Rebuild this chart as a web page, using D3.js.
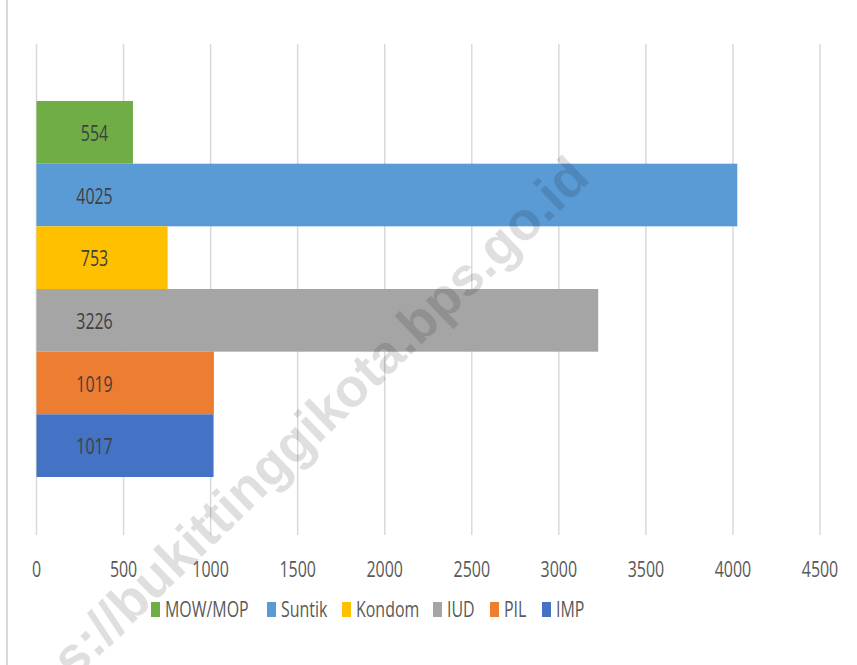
<!DOCTYPE html>
<html>
<head>
<meta charset="utf-8">
<script src="https://cdn.jsdelivr.net/npm/d3@7"></script>
<style>
  body { margin: 0; background: #fff; }
  svg { display: block; font-family: "Open Sans", sans-serif; }
</style>
</head>
<body>
<svg id="chart"></svg>
<script>
// series (top to bottom as drawn)
const series = ["MOW/MOP", "Suntik", "Kondom", "IUD", "PIL", "IMP"];
const values = [554, 4025, 753, 3226, 1019, 1017];
const colors = ["#70AD47", "#5B9BD5", "#FFC000", "#A5A5A5", "#ED7D31", "#4472C4"];
const ticks = [0, 500, 1000, 1500, 2000, 2500, 3000, 3500, 4000, 4500];

const W = 857, H = 665;
const squeeze = 0.76; // reference text is horizontally condensed
const svg = d3.select("#chart").attr("width", W).attr("height", H);

// left border of the chart frame
svg.append("line")
    .attr("x1", 7).attr("x2", 7)
    .attr("y1", 0).attr("y2", H)
    .attr("stroke", "#d9d9d9").attr("stroke-width", 2);

const plot = {left: 36.5, right: 820, top: 44, bottom: 535};

const x = d3.scaleLinear().domain([0, 4500]).range([plot.left, plot.right]);
const y = d3.scaleBand().domain(series).range([101, 477]);

// gridlines
svg.append("g").selectAll("line")
    .data(ticks)
    .enter().append("line")
    .attr("x1", d => x(d)).attr("x2", d => x(d))
    .attr("y1", plot.top).attr("y2", plot.bottom)
    .attr("stroke", "#d9d9d9").attr("stroke-width", 1.5);

// tick labels
svg.append("g").selectAll("text")
    .data(ticks)
    .enter().append("text")
    .attr("transform", d => `translate(${x(d)},577) scale(${squeeze},1)`)
    .attr("text-anchor", "middle")
    .attr("font-size", "21px")
    .attr("fill", "#595959")
    .text(d => d);

// bars
svg.append("g").selectAll("rect")
    .data(series)
    .enter().append("rect")
    .attr("x", x(0))
    .attr("y", d => y(d))
    .attr("width", (d, i) => x(values[i]) - x(0))
    .attr("height", y.bandwidth())
    .attr("fill", (d, i) => colors[i]);

// value labels
svg.append("g").selectAll("text")
    .data(series)
    .enter().append("text")
    .attr("transform", d => `translate(${x(0) + 58},${y(d) + y.bandwidth() / 2 + 8.5}) scale(${squeeze},1)`)
    .attr("text-anchor", "middle")
    .attr("font-size", "21px")
    .attr("fill", "#404040")
    .text((d, i) => values[i]);

// legend
const legendX = [151, 267, 342, 433, 490, 542];
const legend = svg.append("g");
series.forEach((s, i) => {
    legend.append("rect")
        .attr("x", legendX[i]).attr("y", 602)
        .attr("width", 9).attr("height", 15)
        .attr("fill", colors[i]);
    legend.append("text")
        .attr("transform", `translate(${legendX[i] + 14},617) scale(${squeeze},1)`)
        .attr("font-size", "21px")
        .attr("fill", "#595959")
        .text(s);
});

// watermark, drawn over everything
svg.append("text")
    .attr("transform", "translate(582,170) rotate(-44)")
    .attr("y", 14)
    .attr("text-anchor", "end")
    .attr("font-family", "Liberation Sans, Arial, sans-serif")
    .attr("font-weight", "bold")
    .attr("font-size", "54px")
    .attr("fill", "#000")
    .attr("opacity", 0.12)
    .text("https://bukittinggikota.bps.go.id");
</script>
</body>
</html>
